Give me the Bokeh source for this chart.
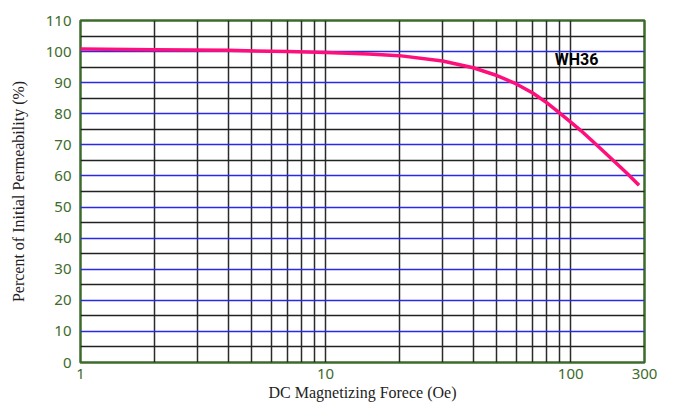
from bokeh.plotting import figure
from bokeh.models import Range1d, FixedTicker, Grid, Label
from bokeh.embed import file_html
from bokeh.resources import INLINE

# data
field_oe = [1, 2, 4, 7, 10, 15, 20, 30, 40, 50, 60, 70, 80, 90, 100, 110, 128, 150, 170, 190]
permeability_pct = [100.8, 100.6, 100.4, 100.0, 99.7, 99.2, 98.7, 97.0, 94.8, 92.3, 89.6, 86.7,
                    83.5, 80.3, 77.3, 74.6, 69.9, 64.8, 60.8, 57.0]
series_name = "WH36"

x_ticks = [1, 10, 100, 200]
x_tick_labels = {1: "1", 10: "10", 100: "100", 200: "300"}
y_ticks = list(range(0, 111, 10))
y_half_lines = list(range(5, 110, 10))
x_minor_lines = [2, 3, 4, 5, 6, 7, 8, 9, 10, 20, 30, 40, 50, 60, 70, 80, 90, 100]

GREEN = "#3d6b2c"

p = figure(width=657, height=403, x_axis_type="log",
           x_range=Range1d(1, 200), y_range=Range1d(0, 110),
           output_backend="svg", toolbar_location=None,
           min_border_left=80, min_border_right=13, min_border_top=20, min_border_bottom=38)
p.background_fill_color = "white"
p.border_fill_color = "white"
p.outline_line_color = GREEN
p.outline_line_width = 2.5

# grids
p.xgrid.ticker = FixedTicker(ticks=x_minor_lines)
p.xgrid.grid_line_color = "#2a2a2a"
p.xgrid.grid_line_width = 1.5
p.ygrid.ticker = FixedTicker(ticks=y_ticks)
p.ygrid.grid_line_color = "#2a2ae6"
p.ygrid.grid_line_width = 1.6
half = Grid(dimension=1, ticker=FixedTicker(ticks=y_half_lines),
            grid_line_color="#222222", grid_line_width=1.4)
p.add_layout(half)

# axes
for ax in (p.xaxis[0], p.yaxis[0]):
    ax.axis_line_color = None
    ax.major_tick_line_color = None
    ax.minor_tick_line_color = None
    ax.major_label_text_color = GREEN
    ax.major_label_text_font = "Noto Sans"
    ax.major_label_text_font_size = "15px"
    ax.axis_label_text_font = "Liberation Serif"
    ax.axis_label_text_font_style = "normal"
    ax.axis_label_text_font_size = "16px"
    ax.axis_label_text_color = "#222222"

p.xaxis.ticker = FixedTicker(ticks=x_ticks)
p.xaxis.major_label_overrides = x_tick_labels
p.xaxis.major_label_standoff = 0
p.xaxis.axis_label = "DC Magnetizing Forece (Oe)"
p.xaxis.axis_label_standoff = 2

p.yaxis.ticker = FixedTicker(ticks=y_ticks)
p.yaxis.major_label_standoff = 3
p.yaxis.axis_label = "Percent of Initial Permeability (%)"
p.yaxis.axis_label_standoff = 16

p.line(field_oe, permeability_pct, line_color="#ff0f7b", line_width=3.5, line_join="round")

p.add_layout(Label(x=86, y=97.5, text=series_name, text_font="Roboto",
                   text_font_style="bold", text_font_size="16px",
                   text_color="black", text_baseline="middle"))

open("out.html", "w").write(file_html(p, INLINE))
